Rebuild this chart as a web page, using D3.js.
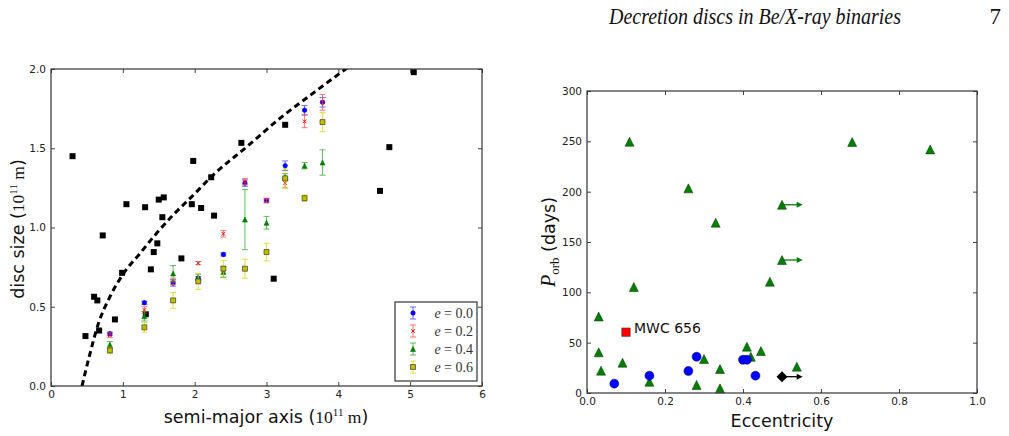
<!DOCTYPE html>
<html lang="en">
<head>
<meta charset="UTF-8">
<title>Decretion discs in Be/X-ray binaries</title>
<script src="https://d3js.org/d3.v7.min.js"></script>
<style>
  body { margin: 0; background: #fff; }
  text { font-family: "DejaVu Sans", sans-serif; fill: #222; }
  .serif { font-family: "Liberation Serif", "DejaVu Serif", serif; }
</style>
</head>
<body>
<script>
// ---- left panel data: disc size vs semi-major axis (1e11 m)
const obsA = [0.30, 0.48, 0.60, 0.645, 0.67, 0.72, 0.89, 0.99, 1.05, 1.31, 1.32, 1.39, 1.43, 1.48, 1.50, 1.55, 1.57, 1.815, 1.96, 1.98, 2.09, 2.23, 2.27, 2.65, 3.10, 3.26, 4.58, 4.71, 5.05]
const obsR = [1.45, 0.315, 0.563, 0.54, 0.35, 0.95, 0.42, 0.714, 1.147, 1.128, 0.453, 0.736, 0.845, 0.90, 1.176, 1.065, 1.19, 0.805, 1.147, 1.42, 1.123, 1.317, 1.075, 1.534, 0.677, 1.648, 1.231, 1.507, 1.98]

// dashed curve
const curveA = [0.432, 0.543, 0.66, 0.82, 1.01, 1.24, 1.45, 1.70, 1.96, 2.26, 2.73, 3.19, 3.65, 4.12]
const curveR = [0.0, 0.205, 0.394, 0.563, 0.71, 0.837, 0.953, 1.079, 1.195, 1.332, 1.511, 1.69, 1.848, 2.006]

// simulated systems
const simA = [0.82, 1.30, 1.70, 2.05, 2.40, 2.70, 3.00, 3.26, 3.53, 3.78]
const e00 = [0.33, 0.525, 0.65, 0.68, 0.83, 1.28, 1.17, 1.39, 1.74, 1.79]
const e00err = [0.01, 0.01, 0.02, 0.01, 0.01, 0.02, 0.01, 0.03, 0.03, 0.03]
const e02 = [0.32, 0.48, 0.66, 0.775, 0.96, 1.29, 1.17, 1.28, 1.67, 1.79]
const e02err = [0.015, 0.02, 0.02, 0.01, 0.02, 0.02, 0.015, 0.03, 0.04, 0.05]
const e04 = [0.26, 0.44, 0.71, 0.685, 0.72, 1.05, 1.03, 1.32, 1.39, 1.41]
const e04err = [0.02, 0.03, 0.05, 0.02, 0.035, 0.19, 0.04, 0.02, 0.02, 0.08]
const e06 = [0.225, 0.37, 0.54, 0.66, 0.74, 0.74, 0.845, 1.31, 1.185, 1.665]
const e06err = [0.02, 0.03, 0.05, 0.05, 0.05, 0.06, 0.055, 0.06, 0.02, 0.06]
const eccLabels = ["0.0", "0.2", "0.4", "0.6"]

const xTicksL = [0, 1, 2, 3, 4, 5, 6]
const yTicksL = [0.0, 0.5, 1.0, 1.5, 2.0]

// ---- right panel data: orbital period vs eccentricity
const triE = [0.030, 0.030, 0.036, 0.091, 0.12, 0.16, 0.281, 0.30, 0.341, 0.341, 0.41, 0.42, 0.446, 0.469, 0.538, 0.109, 0.26, 0.33, 0.68, 0.88, 0.50, 0.50]
const triP = [76, 40.4, 22.2, 30.1, 105.3, 11.2, 8, 33.8, 23.8, 4.6, 46, 36, 41.7, 110.6, 26.2, 249.6, 203.3, 169.2, 249.3, 242, 187, 132.1]
const circE = [0.07, 0.16, 0.26, 0.281, 0.40, 0.41, 0.432]
const circP = [9.3, 17.2, 21.9, 36, 33, 33, 17.2]
const mwcE = [0.10]
const mwcP = [60.4]
const diaE = [0.50]
const diaP = [16.2]
// lower limits on e (arrows)
const arrowE = [0.50, 0.50, 0.50]
const arrowP = [187, 132.1, 16.2]
const arrowTo = 0.553
const arrowColor = ["#007f00", "#007f00", "#000"]

const xTicksR = [0.0, 0.2, 0.4, 0.6, 0.8, 1.0]
const yTicksR = [0, 50, 100, 150, 200, 250, 300]

const svg = d3.select("body").append("svg")
    .attr("width", 1009)
    .attr("height", 436)

// header
svg.append("text")
    .attr("class", "serif")
    .attr("x", 609).attr("y", 24)
    .attr("textLength", 292).attr("lengthAdjust", "spacingAndGlyphs")
    .style("font-size", "23px").style("font-style", "italic").style("fill", "#111")
    .text("Decretion discs in Be/X-ray binaries")
svg.append("text")
    .attr("class", "serif")
    .attr("x", 1001).attr("y", 24).attr("text-anchor", "end")
    .style("font-size", "23px").style("fill", "#111")
    .text("7")

// draws frame with inward ticks on all sides
function frame(x, y, xt, yt, fx, fy) {
    var g = svg.append("g")
    var x0 = x.range()[0], x1 = x.range()[1]
    var y0 = y.range()[0], y1 = y.range()[1]
    g.append("g").attr("transform", `translate(0,${y0})`)
        .call(d3.axisBottom(x).tickValues(xt).tickFormat(fx).tickSizeInner(-4).tickSizeOuter(0).tickPadding(5))
    g.append("g").attr("transform", `translate(0,${y1})`)
        .call(d3.axisTop(x).tickValues(xt).tickFormat("").tickSizeInner(-4).tickSizeOuter(0))
    g.append("g").attr("transform", `translate(${x0},0)`)
        .call(d3.axisLeft(y).tickValues(yt).tickFormat(fy).tickSizeInner(-4).tickSizeOuter(0).tickPadding(5))
    g.append("g").attr("transform", `translate(${x1},0)`)
        .call(d3.axisRight(y).tickValues(yt).tickFormat("").tickSizeInner(-4).tickSizeOuter(0))
    g.selectAll(".domain").remove()
    g.selectAll(".tick line").attr("stroke", "#444")
    g.selectAll(".tick text").style("font-size", "10.5px").style("fill", "#222")
    g.append("rect")
        .attr("x", x0).attr("y", y1)
        .attr("width", x1 - x0).attr("height", y0 - y1)
        .attr("fill", "none").attr("stroke", "#333").attr("stroke-width", 1.2)
    return g
}

function markerPath(type, s) {
    var h = s / 2
    if (type == "s") return `M${-h},${-h}h${s}v${s}h${-s}Z`
    if (type == "^") return `M0,${-h}L${h},${h}L${-h},${h}Z`
    if (type == "D") return `M0,${-h}L${h},0L0,${h}L${-h},0Z`
    if (type == "x") return `M${-h},${-h}L${h},${h}M${-h},${h}L${h},${-h}`
    return d3.arc()({innerRadius: 0, outerRadius: h, startAngle: 0, endAngle: 2 * Math.PI})
}

// ================= left panel
const xL = d3.scaleLinear().domain([0, 6]).range([51, 482])
const yL = d3.scaleLinear().domain([0, 2]).range([386, 69])

const clipL = svg.append("clipPath").attr("id", "clipL")
clipL.append("rect").attr("x", 51).attr("y", 69).attr("width", 431).attr("height", 317)

const plotL = svg.append("g").attr("clip-path", "url(#clipL)")

plotL.selectAll(".obs")
    .data(d3.zip(obsA, obsR))
    .enter()
    .append("path")
    .attr("transform", function (d) { return `translate(${xL(d[0])},${yL(d[1])})` })
    .attr("d", markerPath("s", 6))
    .attr("fill", "#000")

plotL.append("path")
    .datum(d3.zip(curveA, curveR))
    .attr("fill", "none")
    .attr("stroke", "#000")
    .attr("stroke-width", 3)
    .attr("stroke-dasharray", "6,4")
    .attr("d", d3.line().x(d => xL(d[0])).y(d => yL(d[1])).curve(d3.curveMonotoneX))

const series = [
    {label: eccLabels[0], color: "#0000ff", bar: "#3b3bff", marker: "o", size: 4.5, y: e00, err: e00err},
    {label: eccLabels[1], color: "#ff0000", bar: "#ff4c4c", marker: "x", size: 3.5, y: e02, err: e02err},
    {label: eccLabels[2], color: "#007f00", bar: "#2ea82e", marker: "^", size: 5, y: e04, err: e04err},
    {label: eccLabels[3], color: "#bfbf00", bar: "#d8d800", marker: "s", size: 5, y: e06, err: e06err}
]

function errorbar(g, cx, cyLo, cyHi, color) {
    g.append("line").attr("x1", cx).attr("x2", cx).attr("y1", cyLo).attr("y2", cyHi)
        .attr("stroke", color).attr("stroke-width", 1).attr("opacity", 0.75)
    ;[cyLo, cyHi].forEach(function (yy) {
        g.append("line").attr("x1", cx - 3).attr("x2", cx + 3).attr("y1", yy).attr("y2", yy)
            .attr("stroke", color).attr("stroke-width", 1).attr("opacity", 0.75)
    })
}

function drawMarker(g, cx, cy, s) {
    var p = g.append("path")
        .attr("transform", `translate(${cx},${cy})`)
        .attr("d", markerPath(s.marker, s.size))
    if (s.marker == "x") {
        p.attr("fill", "none").attr("stroke", s.color).attr("stroke-width", 1)
    } else {
        p.attr("fill", s.color).attr("stroke", s.marker == "s" ? "#222" : s.color).attr("stroke-width", 0.6)
    }
}

series.forEach(function (s) {
    var g = plotL.append("g")
    simA.forEach(function (a, i) {
        errorbar(g, xL(a), yL(s.y[i] - s.err[i]), yL(s.y[i] + s.err[i]), s.bar)
        drawMarker(g, xL(a), yL(s.y[i]), s)
    })
})

frame(xL, yL, xTicksL, yTicksL, d3.format("d"), d3.format(".1f"))

// legend
const leg = svg.append("g")
leg.append("rect")
    .attr("x", 395).attr("y", 302).attr("width", 82).attr("height", 79)
    .attr("fill", "#fff").attr("stroke", "#333").attr("stroke-width", 1.2)
series.forEach(function (s, i) {
    var yy = 313 + i * 18
    errorbar(leg, 413, yy - 6, yy + 6, s.bar)
    drawMarker(leg, 413, yy, s)
    var t = leg.append("text").attr("class", "serif")
        .attr("x", 473).attr("y", yy + 5).attr("text-anchor", "end")
        .style("font-size", "14px").style("fill", "#333")
    t.append("tspan").style("font-style", "italic").text("e")
    t.append("tspan").text(" = " + s.label)
})

// axis labels
const xlabL = svg.append("text")
    .attr("x", 266).attr("y", 423).attr("text-anchor", "middle")
    .style("font-size", "17.5px").style("fill", "#111")
xlabL.append("tspan").text("semi-major axis (")
xlabL.append("tspan").attr("class", "serif").text("10")
xlabL.append("tspan").attr("class", "serif").attr("dy", -7).style("font-size", "11px").text("11")
xlabL.append("tspan").attr("class", "serif").attr("dy", 7).text(" m")
xlabL.append("tspan").text(")")

const ylabL = svg.append("text")
    .attr("transform", "translate(24,229) rotate(-90)").attr("text-anchor", "middle")
    .style("font-size", "17.5px").style("fill", "#111")
ylabL.append("tspan").text("disc size (")
ylabL.append("tspan").attr("class", "serif").text("10")
ylabL.append("tspan").attr("class", "serif").attr("dy", -7).style("font-size", "11px").text("11")
ylabL.append("tspan").attr("class", "serif").attr("dy", 7).text(" m")
ylabL.append("tspan").text(")")

// ================= right panel
const xR = d3.scaleLinear().domain([0, 1]).range([587, 977])
const yR = d3.scaleLinear().domain([0, 300]).range([393, 91])

const plotR = svg.append("g")

// arrows first so markers sit on top
arrowE.forEach(function (e, i) {
    var x1 = xR(e), x2 = xR(arrowTo), yy = yR(arrowP[i])
    plotR.append("line").attr("x1", x1).attr("x2", x2 - 5).attr("y1", yy).attr("y2", yy)
        .attr("stroke", arrowColor[i]).attr("stroke-width", 1.3)
    plotR.append("path").attr("d", `M${x2},${yy}L${x2 - 6},${yy - 3}L${x2 - 6},${yy + 3}Z`)
        .attr("fill", arrowColor[i])
})

plotR.selectAll(".tri")
    .data(d3.zip(triE, triP))
    .enter()
    .append("path")
    .attr("transform", d => `translate(${xR(d[0])},${yR(d[1])})`)
    .attr("d", markerPath("^", 9))
    .attr("fill", "#007f00").attr("stroke", "#003300").attr("stroke-width", 0.5)

plotR.selectAll(".circ")
    .data(d3.zip(circE, circP))
    .enter()
    .append("path")
    .attr("transform", d => `translate(${xR(d[0])},${yR(d[1])})`)
    .attr("d", markerPath("o", 9))
    .attr("fill", "#0000ff").attr("stroke", "#000066").attr("stroke-width", 0.5)

plotR.selectAll(".mwc")
    .data(d3.zip(mwcE, mwcP))
    .enter()
    .append("path")
    .attr("transform", d => `translate(${xR(d[0])},${yR(d[1])})`)
    .attr("d", markerPath("s", 8.5))
    .attr("fill", "#ff0000").attr("stroke", "#333").attr("stroke-width", 0.5)

plotR.append("text")
    .attr("x", xR(mwcE[0]) + 8).attr("y", yR(mwcP[0]) + 1)
    .style("font-size", "14px").style("fill", "#111")
    .text("MWC 656")

plotR.selectAll(".dia")
    .data(d3.zip(diaE, diaP))
    .enter()
    .append("path")
    .attr("transform", d => `translate(${xR(d[0])},${yR(d[1])})`)
    .attr("d", markerPath("D", 11))
    .attr("fill", "#000")

frame(xR, yR, xTicksR, yTicksR, d3.format(".1f"), d3.format("d"))

svg.append("text")
    .attr("x", 782).attr("y", 427).attr("text-anchor", "middle")
    .style("font-size", "17.5px").style("fill", "#111")
    .text("Eccentricity")

const ylabR = svg.append("text")
    .attr("transform", "translate(555,242) rotate(-90)").attr("text-anchor", "middle")
    .style("font-size", "17.5px").style("fill", "#111")
ylabR.append("tspan").attr("class", "serif").style("font-style", "italic").style("font-size", "20px").text("P")
ylabR.append("tspan").attr("class", "serif").attr("dy", 4).style("font-size", "13px").text("orb")
ylabR.append("tspan").attr("dy", -4).text(" (days)")
</script>
</body>
</html>
